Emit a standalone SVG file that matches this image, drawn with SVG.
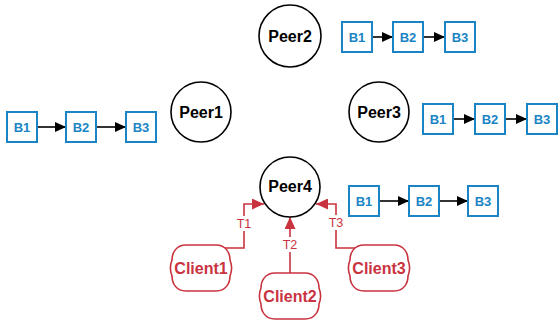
<svg xmlns="http://www.w3.org/2000/svg" xmlns:xlink="http://www.w3.org/1999/xlink" width="558" height="320" viewBox="0 0 558 320">
  <style>
    .peer { fill: #ffffff; stroke: #000000; stroke-width: 1.6; }
    .peer-label { font-family: "Liberation Sans", Arial, sans-serif; font-weight: bold; font-size: 16px; fill: #000000; text-anchor: middle; }
    .block { fill: #ffffff; stroke: #1a84c4; stroke-width: 2; }
    .block-label { font-family: "Liberation Sans", Arial, sans-serif; font-weight: bold; font-size: 13px; fill: #1a84c4; text-anchor: middle; }
    .client { fill: #ffffff; stroke: #c9333f; stroke-width: 1.6; }
    .client-label { font-family: "Liberation Sans", Arial, sans-serif; font-weight: bold; font-size: 16px; fill: #c9333f; text-anchor: middle; }
    .chain { fill: none; stroke: #000000; stroke-width: 1.6; marker-end: url(#arrow-black); }
    .tx { fill: none; stroke: #c9333f; stroke-width: 1.6; marker-end: url(#arrow-red); }
    .tx-label { font-family: "Liberation Sans", Arial, sans-serif; font-size: 12.5px; fill: #c9333f; text-anchor: middle; }
    .label-bg { fill: #ffffff; }
  </style>
  <defs>
    <marker id="arrow-black" markerUnits="userSpaceOnUse" markerWidth="12" markerHeight="10" refX="11" refY="5" orient="auto">
      <path d="M0,0 L11,5 L0,10 Z" fill="#000000"/>
    </marker>
    <marker id="arrow-red" markerUnits="userSpaceOnUse" markerWidth="13" markerHeight="11" refX="12" refY="5.5" orient="auto">
      <path d="M0,0 L12,5.5 L0,11 Z" fill="#c9333f"/>
    </marker>
    <!-- client outline: rounded top/bottom with bulging sides, 58x46 -->
    <path id="client-shape" d="M14,0 H44 C54,0 58,8 58,15 C60,20 60,26 58,31 C58,38 54,46 44,46 H14 C4,46 0,38 0,31 C-2,26 -2,20 0,15 C0,8 4,0 14,0 Z"/>
  </defs>

  <rect width="558" height="320" fill="#ffffff"/>

  <!-- connectors -->
  <g id="connectors">
    <!-- Peer2 chain -->
    <path class="chain" d="M372,37 H393"/>
    <path class="chain" d="M423,37 H445"/>
    <!-- Peer1 chain -->
    <path class="chain" d="M37,127 H66"/>
    <path class="chain" d="M96,127 H126"/>
    <!-- Peer3 chain -->
    <path class="chain" d="M453,119 H475"/>
    <path class="chain" d="M505,119 H527"/>
    <!-- Peer4 chain -->
    <path class="chain" d="M379,201 H409"/>
    <path class="chain" d="M439,201 H468"/>
    <!-- transactions from clients to Peer4 -->
    <path class="tx" d="M224,248 H244 V204 H264"/>
    <path class="tx" d="M290,273 V217"/>
    <path class="tx" d="M356,248 H336 V204 H316"/>
    <rect class="label-bg" x="236" y="216" width="16" height="15"/>
    <text class="tx-label" x="244" y="228">T1</text>
    <rect class="label-bg" x="282" y="237" width="16" height="15"/>
    <text class="tx-label" x="290" y="249">T2</text>
    <rect class="label-bg" x="328" y="215" width="16" height="15"/>
    <text class="tx-label" x="336" y="227">T3</text>
  </g>

  <!-- peers -->
  <g id="peer1">
    <circle class="peer" cx="201" cy="112" r="30"/>
    <text class="peer-label" x="201" y="118">Peer1</text>
  </g>
  <g id="peer2">
    <circle class="peer" cx="290" cy="36" r="31"/>
    <text class="peer-label" x="290" y="42">Peer2</text>
  </g>
  <g id="peer3">
    <circle class="peer" cx="379" cy="112" r="30"/>
    <text class="peer-label" x="379" y="118">Peer3</text>
  </g>
  <g id="peer4">
    <circle class="peer" cx="290" cy="187" r="30"/>
    <text class="peer-label" x="290" y="192">Peer4</text>
  </g>

  <!-- blocks held by Peer2 -->
  <g id="peer2-b1"><rect class="block" x="342" y="22" width="30" height="30"/><text class="block-label" x="357" y="42">B1</text></g>
  <g id="peer2-b2"><rect class="block" x="393" y="22" width="30" height="30"/><text class="block-label" x="408" y="42">B2</text></g>
  <g id="peer2-b3"><rect class="block" x="445" y="22" width="30" height="30"/><text class="block-label" x="460" y="42">B3</text></g>

  <!-- blocks held by Peer1 -->
  <g id="peer1-b1"><rect class="block" x="7" y="112" width="30" height="30"/><text class="block-label" x="22" y="132">B1</text></g>
  <g id="peer1-b2"><rect class="block" x="66" y="112" width="30" height="30"/><text class="block-label" x="81" y="132">B2</text></g>
  <g id="peer1-b3"><rect class="block" x="126" y="112" width="30" height="30"/><text class="block-label" x="141" y="132">B3</text></g>

  <!-- blocks held by Peer3 -->
  <g id="peer3-b1"><rect class="block" x="423" y="104" width="30" height="30"/><text class="block-label" x="438" y="124">B1</text></g>
  <g id="peer3-b2"><rect class="block" x="475" y="104" width="30" height="30"/><text class="block-label" x="490" y="124">B2</text></g>
  <g id="peer3-b3"><rect class="block" x="527" y="104" width="30" height="30"/><text class="block-label" x="542" y="124">B3</text></g>

  <!-- blocks held by Peer4 -->
  <g id="peer4-b1"><rect class="block" x="349" y="186" width="30" height="30"/><text class="block-label" x="364" y="206">B1</text></g>
  <g id="peer4-b2"><rect class="block" x="409" y="186" width="30" height="30"/><text class="block-label" x="424" y="206">B2</text></g>
  <g id="peer4-b3"><rect class="block" x="468" y="186" width="30" height="30"/><text class="block-label" x="483" y="206">B3</text></g>

  <!-- clients -->
  <g id="client1">
    <use xlink:href="#client-shape" href="#client-shape" class="client" transform="translate(172,245)"/>
    <text class="client-label" x="201" y="274">Client1</text>
  </g>
  <g id="client2">
    <use xlink:href="#client-shape" href="#client-shape" class="client" transform="translate(261,273)"/>
    <text class="client-label" x="290" y="302">Client2</text>
  </g>
  <g id="client3">
    <use xlink:href="#client-shape" href="#client-shape" class="client" transform="translate(350,245)"/>
    <text class="client-label" x="379" y="274">Client3</text>
  </g>
</svg>
